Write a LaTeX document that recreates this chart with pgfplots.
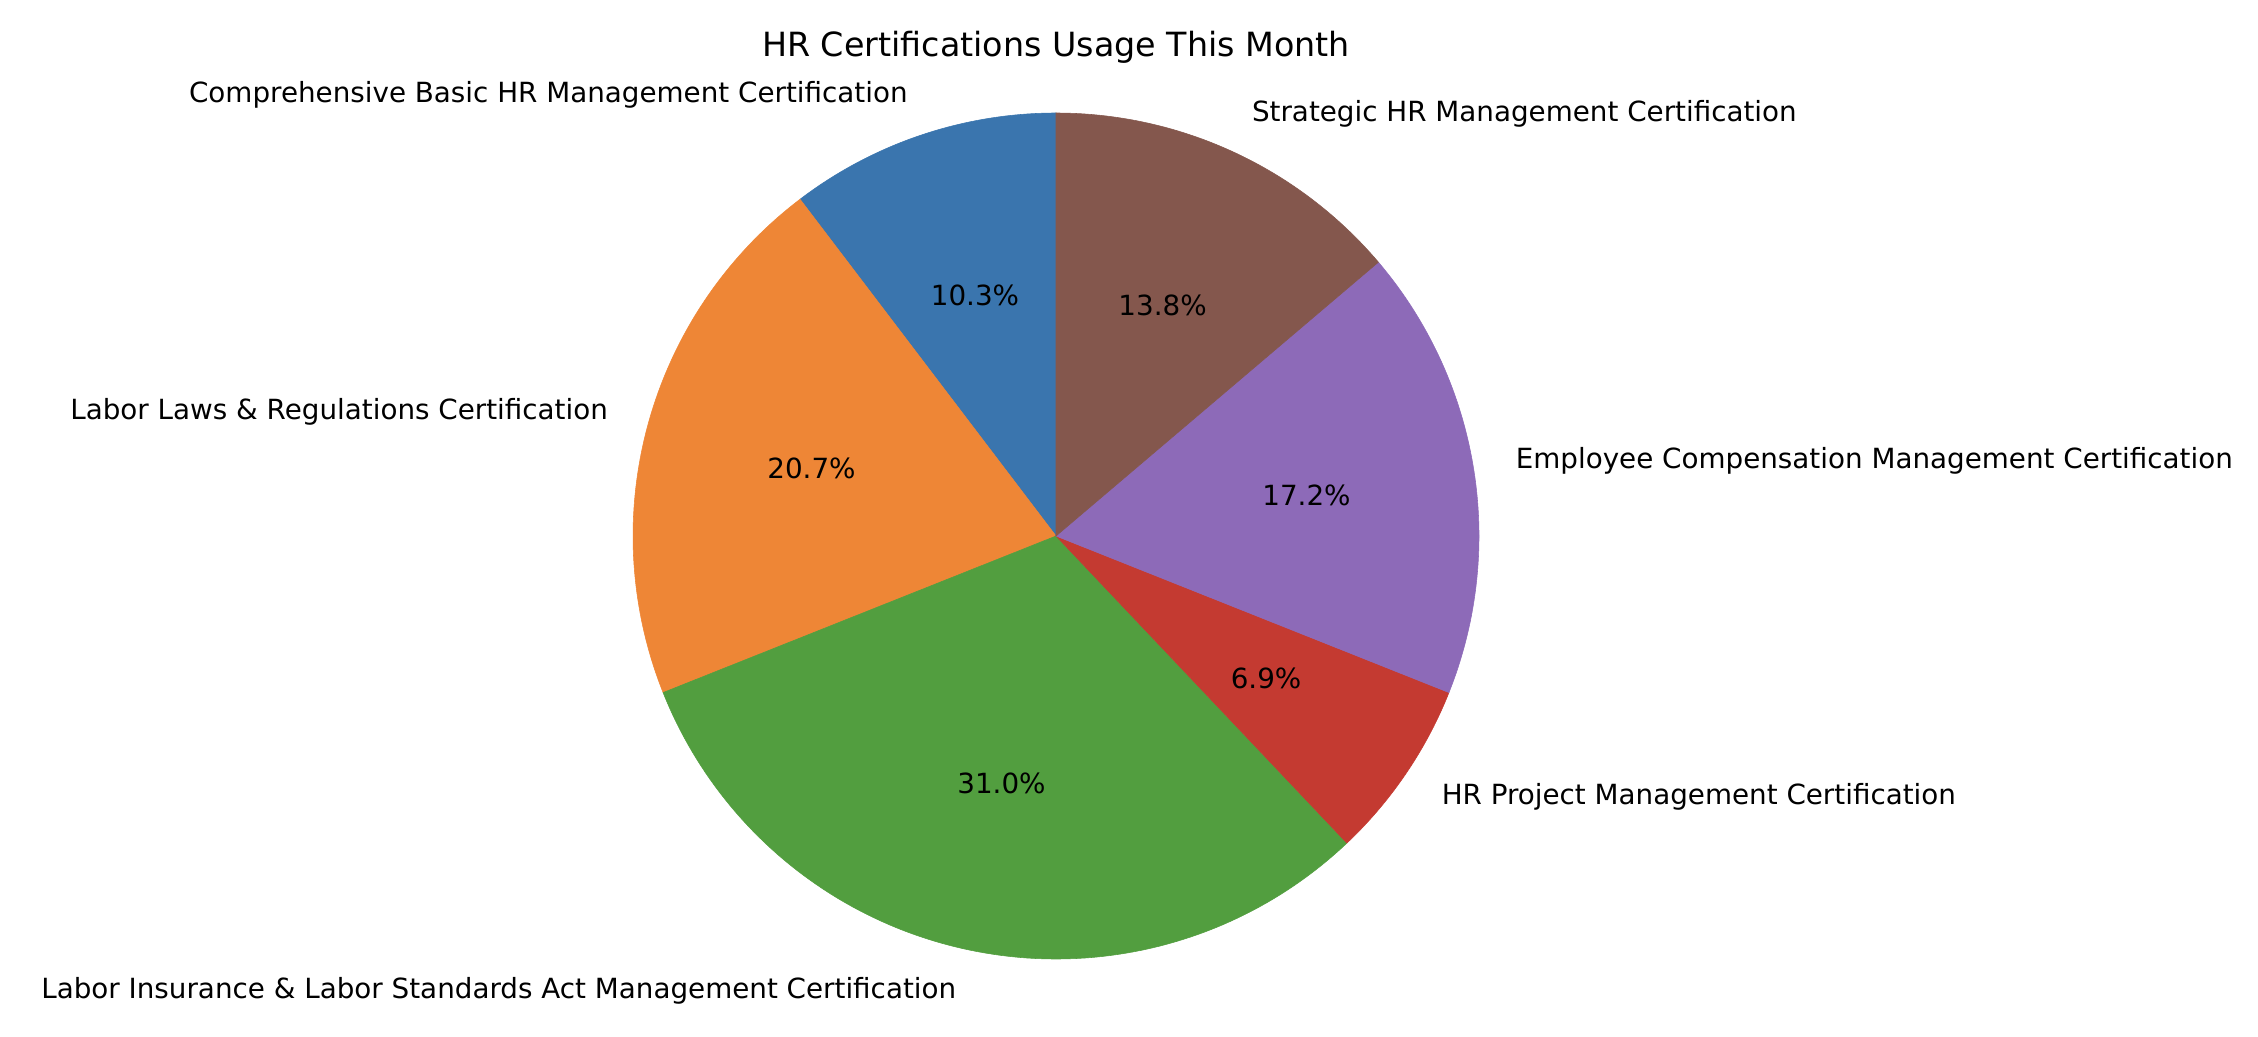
\documentclass[border=0pt]{standalone}
\usepackage{pgfplots}
\usepackage{pgfplotstable}
\pgfplotsset{compat=1.18}
\usepackage{fontspec}
\setmainfont{DejaVu Sans}
\definecolor{cblue}{HTML}{3A75AE}
\definecolor{corange}{HTML}{EE8636}
\definecolor{cgreen}{HTML}{529E3F}
\definecolor{cred}{HTML}{C43A31}
\definecolor{cpurple}{HTML}{8D6AB8}
\definecolor{cbrown}{HTML}{84574D}
\pgfplotstableread[col sep=comma]{
value,pct
3,10.3
6,20.7
9,31.0
2,6.9
5,17.2
4,13.8
}\piedata
\begin{document}
\begin{tikzpicture}
\pgfplotstablegetelem{0}{value}\of\piedata \let\vA\pgfplotsretval
\pgfplotstablegetelem{1}{value}\of\piedata \let\vB\pgfplotsretval
\pgfplotstablegetelem{2}{value}\of\piedata \let\vC\pgfplotsretval
\pgfplotstablegetelem{3}{value}\of\piedata \let\vD\pgfplotsretval
\pgfplotstablegetelem{4}{value}\of\piedata \let\vE\pgfplotsretval
\pgfplotstablegetelem{5}{value}\of\piedata \let\vF\pgfplotsretval
\pgfplotstablegetelem{0}{pct}\of\piedata \let\pA\pgfplotsretval
\pgfplotstablegetelem{1}{pct}\of\piedata \let\pB\pgfplotsretval
\pgfplotstablegetelem{2}{pct}\of\piedata \let\pC\pgfplotsretval
\pgfplotstablegetelem{3}{pct}\of\piedata \let\pD\pgfplotsretval
\pgfplotstablegetelem{4}{pct}\of\piedata \let\pE\pgfplotsretval
\pgfplotstablegetelem{5}{pct}\of\piedata \let\pF\pgfplotsretval
\pgfmathsetmacro\tot{\vA+\vB+\vC+\vD+\vE+\vF}
\pgfmathsetmacro\aA{90}
\pgfmathsetmacro\aB{\aA+360*\vA/\tot}
\pgfmathsetmacro\aC{\aB+360*\vB/\tot}
\pgfmathsetmacro\aD{\aC+360*\vC/\tot}
\pgfmathsetmacro\aE{\aD+360*\vD/\tot}
\pgfmathsetmacro\aF{\aE+360*\vE/\tot}
\pgfmathsetmacro\aG{\aF+360*\vF/\tot}
\pgfmathsetmacro\mA{(\aA+\aB)/2}
\pgfmathsetmacro\mB{(\aB+\aC)/2}
\pgfmathsetmacro\mC{(\aC+\aD)/2}
\pgfmathsetmacro\mD{(\aD+\aE)/2}
\pgfmathsetmacro\mE{(\aE+\aF)/2}
\pgfmathsetmacro\mF{(\aF+\aG)/2}
\pgfmathsetmacro\lxA{1.1*cos(\mA)}\pgfmathsetmacro\lyA{1.1*sin(\mA)}
\pgfmathsetmacro\lxB{1.1*cos(\mB)}\pgfmathsetmacro\lyB{1.1*sin(\mB)}
\pgfmathsetmacro\lxC{1.1*cos(\mC)}\pgfmathsetmacro\lyC{1.1*sin(\mC)}
\pgfmathsetmacro\lxD{1.1*cos(\mD)}\pgfmathsetmacro\lyD{1.1*sin(\mD)}
\pgfmathsetmacro\lxE{1.1*cos(\mE)}\pgfmathsetmacro\lyE{1.1*sin(\mE)}
\pgfmathsetmacro\lxF{1.1*cos(\mF)}\pgfmathsetmacro\lyF{1.1*sin(\mF)}
\pgfmathsetmacro\qxA{0.6*cos(\mA)}\pgfmathsetmacro\qyA{0.6*sin(\mA)}
\pgfmathsetmacro\qxB{0.6*cos(\mB)}\pgfmathsetmacro\qyB{0.6*sin(\mB)}
\pgfmathsetmacro\qxC{0.6*cos(\mC)}\pgfmathsetmacro\qyC{0.6*sin(\mC)}
\pgfmathsetmacro\qxD{0.6*cos(\mD)}\pgfmathsetmacro\qyD{0.6*sin(\mD)}
\pgfmathsetmacro\qxE{0.6*cos(\mE)}\pgfmathsetmacro\qyE{0.6*sin(\mE)}
\pgfmathsetmacro\qxF{0.6*cos(\mF)}\pgfmathsetmacro\qyF{0.6*sin(\mF)}
\begin{axis}[
  scale only axis,
  width=812.88pt, height=372.96pt,
  xmin=-2.4965, xmax=2.8416,
  ymin=-1.1820, ymax=1.2671,
  hide axis, clip=false,
  every node/.style={font=\fontsize{10}{12}\selectfont, text height=0.76em, text depth=0.24em, inner sep=0pt},
]
\addplot[fill=cblue, draw=cblue, line width=0.2pt, domain=\aA:\aB, samples=60] ({cos(x)},{sin(x)}) -- (axis cs:0,0) -- cycle;
\addplot[fill=corange, draw=corange, line width=0.2pt, domain=\aB:\aC, samples=80] ({cos(x)},{sin(x)}) -- (axis cs:0,0) -- cycle;
\addplot[fill=cgreen, draw=cgreen, line width=0.2pt, domain=\aC:\aD, samples=100] ({cos(x)},{sin(x)}) -- (axis cs:0,0) -- cycle;
\addplot[fill=cred, draw=cred, line width=0.2pt, domain=\aD:\aE, samples=40] ({cos(x)},{sin(x)}) -- (axis cs:0,0) -- cycle;
\addplot[fill=cpurple, draw=cpurple, line width=0.2pt, domain=\aE:\aF, samples=70] ({cos(x)},{sin(x)}) -- (axis cs:0,0) -- cycle;
\addplot[fill=cbrown, draw=cbrown, line width=0.2pt, domain=\aF:\aG, samples=60] ({cos(x)},{sin(x)}) -- (axis cs:0,0) -- cycle;
\node[anchor=east, xshift=3.6pt] at (axis cs:\lxA,\lyA) {Comprehensive Basic HR Management Certification};
\node[anchor=east, xshift=3.6pt] at (axis cs:\lxB,\lyB) {Labor Laws \& Regulations Certification};
\node[anchor=east, xshift=3.6pt] at (axis cs:\lxC,\lyC) {Labor Insurance \& Labor Standards Act Management Certification};
\node[anchor=west, xshift=-3.3pt] at (axis cs:\lxD,\lyD) {HR Project Management Certification};
\node[anchor=west, xshift=-3.3pt] at (axis cs:\lxE,\lyE) {Employee Compensation Management Certification};
\node[anchor=west, xshift=-3.3pt] at (axis cs:\lxF,\lyF) {Strategic HR Management Certification};
\node at (axis cs:\qxA,\qyA) {\pA\%};
\node at (axis cs:\qxB,\qyB) {\pB\%};
\node at (axis cs:\qxC,\qyC) {\pC\%};
\node at (axis cs:\qxD,\qyD) {\pD\%};
\node at (axis cs:\qxE,\qyE) {\pE\%};
\node at (axis cs:\qxF,\qyF) {\pF\%};
\node[anchor=base, font=\fontsize{12}{14.4}\selectfont, text height=, text depth=] at (axis cs:0,1.1324) {HR Certifications Usage This Month};
\end{axis}
\pgfresetboundingbox
\useasboundingbox (current axis.south west) rectangle (current axis.north east);
\end{tikzpicture}
\end{document}
